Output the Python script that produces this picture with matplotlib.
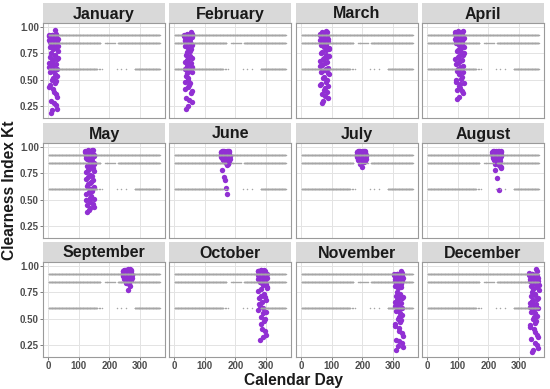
import numpy as np
import matplotlib
matplotlib.use("Agg")
import matplotlib.pyplot as plt

plt.rcParams['font.family'] = ['Liberation Sans', 'DejaVu Sans']

months = ['January', 'February', 'March', 'April', 'May', 'June',
          'July', 'August', 'September', 'October', 'November', 'December']
month_start = [1, 32, 60, 91, 121, 152, 182, 213, 244, 274, 305, 335]
month_days = [31, 28, 31, 30, 31, 30, 31, 31, 30, 31, 30, 31]

# clearness index values per month (two readings per calendar day)
kt_jan = [0.93, 0.88, 0.62, 0.45, 0.91, 0.72, 0.30, 0.85, 0.58, 0.93, 0.68, 0.21, 0.90, 0.79, 0.52, 0.92,
          0.64, 0.38, 0.87, 0.74, 0.55, 0.97, 0.83, 0.49, 0.26, 0.91, 0.70, 0.60, 0.34, 0.89, 0.77,
          0.92, 0.66, 0.43, 0.86, 0.81, 0.57, 0.90, 0.18, 0.75, 0.63, 0.93, 0.50, 0.84, 0.69, 0.41,
          0.92, 0.59, 0.28, 0.88, 0.73, 0.47, 0.91, 0.80, 0.65, 0.36, 0.94, 0.54, 0.86, 0.22, 0.71, 0.82]
kt_feb = [0.93, 0.87, 0.60, 0.41, 0.91, 0.74, 0.33, 0.89, 0.56, 0.94, 0.69, 0.25, 0.90, 0.80, 0.50, 0.92,
          0.65, 0.45, 0.86, 0.77, 0.58, 0.95, 0.84, 0.37, 0.91, 0.71, 0.62, 0.29,
          0.92, 0.67, 0.48, 0.88, 0.82, 0.54, 0.90, 0.22, 0.76, 0.63, 0.93, 0.52, 0.85, 0.70, 0.43, 0.91,
          0.59, 0.31, 0.89, 0.73, 0.47, 0.93, 0.79, 0.66, 0.39, 0.94, 0.57, 0.83]
kt_mar = [0.94, 0.88, 0.63, 0.46, 0.92, 0.75, 0.36, 0.90, 0.58, 0.95, 0.70, 0.30, 0.91, 0.81, 0.53, 0.93,
          0.66, 0.42, 0.87, 0.78, 0.60, 0.96, 0.84, 0.50, 0.92, 0.72, 0.61, 0.33, 0.89, 0.79, 0.55,
          0.93, 0.68, 0.45, 0.86, 0.83, 0.57, 0.91, 0.28, 0.76, 0.64, 0.94, 0.52, 0.85, 0.71, 0.40,
          0.92, 0.59, 0.35, 0.90, 0.74, 0.48, 0.93, 0.82, 0.67, 0.38, 0.95, 0.56, 0.87, 0.44, 0.73, 0.80]
kt_apr = [0.95, 0.89, 0.65, 0.50, 0.93, 0.77, 0.40, 0.91, 0.60, 0.96, 0.72, 0.34, 0.92, 0.83, 0.56, 0.94,
          0.68, 0.46, 0.88, 0.80, 0.62, 0.95, 0.86, 0.53, 0.93, 0.74, 0.63, 0.37, 0.90, 0.81,
          0.94, 0.70, 0.48, 0.87, 0.85, 0.58, 0.92, 0.32, 0.78, 0.66, 0.95, 0.55, 0.86, 0.73, 0.44,
          0.93, 0.61, 0.42, 0.91, 0.76, 0.51, 0.94, 0.84, 0.69, 0.39, 0.96, 0.57, 0.89, 0.47, 0.75]
kt_may = [0.96, 0.92, 0.70, 0.55, 0.94, 0.82, 0.45, 0.93, 0.65, 0.97, 0.78, 0.40, 0.95, 0.88, 0.60, 0.96,
          0.74, 0.52, 0.91, 0.86, 0.67, 0.97, 0.90, 0.58, 0.94, 0.80, 0.69, 0.43, 0.93, 0.85, 0.62,
          0.95, 0.76, 0.50, 0.90, 0.89, 0.63, 0.94, 0.38, 0.83, 0.72, 0.96, 0.57, 0.91, 0.79, 0.48,
          0.95, 0.66, 0.42, 0.93, 0.81, 0.54, 0.96, 0.87, 0.73, 0.46, 0.97, 0.61, 0.92, 0.51, 0.77, 0.84]
kt_jun = [0.95, 0.93, 0.91, 0.96, 0.94, 0.92, 0.89, 0.95, 0.90, 0.93, 0.87, 0.96, 0.94, 0.91, 0.88, 0.95,
          0.92, 0.85, 0.94, 0.96, 0.90, 0.93, 0.83, 0.95, 0.91, 0.94, 0.86, 0.92, 0.96, 0.89,
          0.94, 0.92, 0.95, 0.90, 0.93, 0.78, 0.96, 0.91, 0.94, 0.88, 0.72, 0.95, 0.92, 0.69, 0.93,
          0.90, 0.61, 0.94, 0.95, 0.55, 0.92, 0.89, 0.93, 0.96, 0.91, 0.84, 0.94, 0.90, 0.95, 0.92]
kt_jul = [0.95, 0.93, 0.91, 0.96, 0.94, 0.92, 0.89, 0.95, 0.90, 0.93, 0.88, 0.96, 0.94, 0.91, 0.87, 0.95,
          0.92, 0.86, 0.94, 0.96, 0.90, 0.93, 0.89, 0.95, 0.91, 0.94, 0.87, 0.92, 0.96, 0.89, 0.93,
          0.94, 0.92, 0.95, 0.90, 0.93, 0.88, 0.96, 0.91, 0.94, 0.89, 0.84, 0.95, 0.92, 0.87, 0.93,
          0.90, 0.81, 0.94, 0.95, 0.88, 0.92, 0.89, 0.93, 0.96, 0.91, 0.86, 0.94, 0.90, 0.95, 0.92, 0.93]
kt_aug = [0.95, 0.93, 0.91, 0.96, 0.94, 0.92, 0.89, 0.95, 0.90, 0.93, 0.88, 0.96, 0.94, 0.91, 0.86, 0.95,
          0.92, 0.85, 0.94, 0.96, 0.90, 0.93, 0.83, 0.95, 0.91, 0.94, 0.87, 0.92, 0.96, 0.81, 0.93,
          0.94, 0.92, 0.95, 0.90, 0.93, 0.88, 0.96, 0.91, 0.78, 0.89, 0.84, 0.95, 0.92, 0.87, 0.93,
          0.71, 0.86, 0.94, 0.95, 0.88, 0.92, 0.59, 0.93, 0.96, 0.91, 0.82, 0.94, 0.90, 0.95, 0.92, 0.80]
kt_sep = [0.95, 0.93, 0.91, 0.96, 0.94, 0.92, 0.89, 0.95, 0.90, 0.93, 0.88, 0.96, 0.94, 0.91, 0.86, 0.95,
          0.92, 0.85, 0.94, 0.97, 0.90, 0.93, 0.83, 0.95, 0.91, 0.94, 0.87, 0.92, 0.96, 0.89,
          0.94, 0.92, 0.95, 0.90, 0.93, 0.88, 0.96, 0.91, 0.94, 0.89, 0.84, 0.95, 0.92, 0.87, 0.93,
          0.90, 0.77, 0.94, 0.95, 0.88, 0.92, 0.89, 0.93, 0.97, 0.91, 0.81, 0.94, 0.90, 0.95, 0.92]
kt_oct = [0.95, 0.92, 0.88, 0.70, 0.94, 0.90, 0.62, 0.93, 0.85, 0.96, 0.78, 0.45, 0.94, 0.91, 0.66, 0.95,
          0.82, 0.55, 0.92, 0.89, 0.74, 0.96, 0.93, 0.50, 0.94, 0.87, 0.68, 0.35, 0.91, 0.93, 0.80,
          0.95, 0.76, 0.58, 0.92, 0.90, 0.64, 0.94, 0.30, 0.86, 0.72, 0.96, 0.52, 0.93, 0.84, 0.40,
          0.95, 0.60, 0.33, 0.91, 0.88, 0.48, 0.94, 0.92, 0.71, 0.38, 0.95, 0.83, 0.90, 0.56, 0.79, 0.89]
kt_nov = [0.93, 0.88, 0.62, 0.45, 0.91, 0.72, 0.30, 0.85, 0.58, 0.93, 0.68, 0.24, 0.90, 0.79, 0.52, 0.92,
          0.64, 0.38, 0.87, 0.74, 0.55, 0.95, 0.83, 0.49, 0.27, 0.91, 0.70, 0.60, 0.34, 0.89,
          0.92, 0.66, 0.43, 0.86, 0.81, 0.57, 0.90, 0.20, 0.75, 0.63, 0.93, 0.50, 0.84, 0.69, 0.41,
          0.92, 0.59, 0.29, 0.88, 0.73, 0.47, 0.91, 0.80, 0.65, 0.36, 0.94, 0.54, 0.86, 0.23, 0.71]
kt_dec = [0.94, 0.88, 0.61, 0.44, 0.91, 0.72, 0.31, 0.85, 0.57, 0.93, 0.67, 0.20, 0.90, 0.78, 0.52, 0.92,
          0.63, 0.37, 0.87, 0.74, 0.55, 0.97, 0.83, 0.48, 0.25, 0.91, 0.69, 0.60, 0.33, 0.89, 0.77,
          0.92, 0.65, 0.42, 0.86, 0.81, 0.56, 0.90, 0.18, 0.75, 0.62, 0.93, 0.50, 0.84, 0.68, 0.40,
          0.92, 0.59, 0.27, 0.88, 0.73, 0.46, 0.91, 0.80, 0.64, 0.35, 0.95, 0.53, 0.86, 0.22, 0.70, 0.82]
kt_by_month = [kt_jan, kt_feb, kt_mar, kt_apr, kt_may, kt_jun,
               kt_jul, kt_aug, kt_sep, kt_oct, kt_nov, kt_dec]

# grey reference levels: (kt, first day, last day, every n-th day)
ref_segments = [
    (0.922, 1, 365, 1),
    (0.853, 1, 170, 1), (0.853, 185, 218, 3), (0.853, 229, 365, 1),
    (0.604, 1, 158, 1), (0.604, 160, 175, 5), (0.604, 224, 224, 1),
    (0.604, 237, 237, 1), (0.604, 256, 256, 1), (0.604, 284, 365, 1),
]

x_ticks = [0, 100, 200, 300]
y_ticks = [0.25, 0.50, 0.75, 1.00]

W, H = 550, 389
col_left = [43, 169, 296, 422]
row_top = [3, 123, 242]
panel_w, strip_h, panel_h = 122, 20, 95

PURPLE = '#9130d3'
GREY_PTS = '#a6a6a6'
TICK_COL = '#4d4d4d'


def px_box(x, y, w, h):
    return [x / W, 1 - (y + h) / H, w / W, h / H]


fig = plt.figure(figsize=(W / 100, H / 100), dpi=100)

for i, name in enumerate(months):
    r, c = divmod(i, 4)
    x0, y0 = col_left[c], row_top[r]

    strip = fig.add_axes(px_box(x0, y0, panel_w, strip_h))
    strip.set_facecolor('#d9d9d9')
    strip.set_xticks([])
    strip.set_yticks([])
    for s in strip.spines.values():
        s.set_visible(False)
    strip.text(0.5, 0.45, name, ha='center', va='center', fontsize=11.5,
               fontweight='bold', color='#1a1a1a', transform=strip.transAxes)

    ax = fig.add_axes(px_box(x0, y0 + strip_h, panel_w, panel_h))
    ax.set_xlim(-18, 383)
    ax.set_ylim(0.136, 1.04)
    ax.set_xticks(x_ticks)
    ax.set_yticks(y_ticks)
    ax.grid(True, color='#e3e3e3', linewidth=0.7)
    ax.set_axisbelow(True)
    for s in ax.spines.values():
        s.set_color('#9a9a9a')
        s.set_linewidth(0.8)

    kt = kt_by_month[i]
    days = [month_start[i] + k % month_days[i] for k in range(len(kt))]
    ax.scatter(days, kt, s=15, color=PURPLE, linewidths=0, zorder=2)

    for level, d0, d1, step in ref_segments:
        d = np.arange(d0, d1 + 1, step)
        ax.scatter(d, np.full(len(d), level), s=1.2, color=GREY_PTS,
                   linewidths=0, zorder=3)

    ax.tick_params(length=2, color='#7f7f7f', width=0.7, pad=1,
                   labelsize=7, labelcolor=TICK_COL)
    if c == 0:
        ax.set_yticklabels([f'{v:.2f}' for v in y_ticks], fontweight='bold')
    else:
        ax.tick_params(axis='y', length=0, labelleft=False)
    if r == 2:
        ax.set_xticklabels([str(v) for v in x_ticks], fontweight='bold')
    else:
        ax.tick_params(axis='x', length=0, labelbottom=False)

fig.text(10 / W, 1 - 190 / H, 'Clearness Index Kt', rotation=90, ha='center',
         va='center', fontsize=11.2, fontweight='bold', color='#1a1a1a')
fig.text(293.5 / W, 1 - 380 / H, 'Calendar Day', ha='center', va='center',
         fontsize=11.2, fontweight='bold', color='#1a1a1a')

fig.savefig('out.png', dpi=100)
